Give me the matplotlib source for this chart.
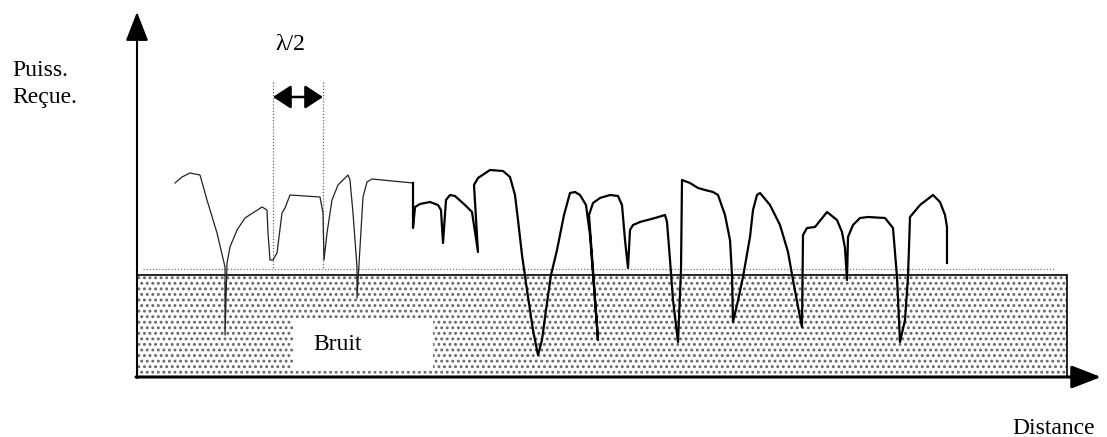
import matplotlib
matplotlib.use("Agg")
import matplotlib.pyplot as plt
from matplotlib.patches import Rectangle

plt.rcParams['hatch.linewidth'] = 1.3
plt.rcParams['hatch.color'] = '#666666'

# ---- data (schematic coordinates: distance -> right, level -> down in image units)
thin_dist = [175, 182, 190, 200, 207, 217, 225, 225, 227, 230, 237, 245, 262, 267, 268, 270,
             273, 277, 282, 285, 290, 320, 323, 324, 327, 332, 338, 348, 350, 353, 357, 357,
             363, 367, 372, 413]
thin_level = [183, 177, 173, 175, 200, 233, 267, 335, 263, 247, 230, 218, 207, 210, 233, 260,
              260, 253, 213, 208, 195, 197, 213, 260, 233, 200, 185, 175, 180, 213, 267, 298,
              197, 182, 179, 183]

thick_dist = [413, 413, 415, 420, 430, 438, 441, 443, 446, 450, 455, 465, 472, 478, 474, 478,
              490, 503, 510, 515, 518, 522, 527, 533, 538, 542, 546, 551, 557, 564, 570, 575,
              580, 586, 590, 595, 598, 593, 589, 593, 600, 610, 618, 622, 625, 628, 630, 633,
              640, 655, 665, 667, 670, 673, 678, 681, 682, 690, 698, 705, 713, 718, 725, 730,
              732, 733, 737, 743, 750, 753, 757, 760, 770, 780, 788, 793, 800, 802, 803, 807,
              815, 827, 837, 842, 845, 847, 848, 853, 860, 868, 885, 893, 897, 900, 905, 908,
              910, 920, 933, 940, 945, 947, 947]
thick_level = [183, 228, 207, 204, 202, 205, 210, 243, 200, 195, 196, 205, 212, 252, 185, 178,
               170, 171, 177, 195, 220, 255, 290, 330, 355, 340, 310, 275, 250, 215, 193, 192,
               195, 205, 235, 300, 340, 270, 215, 203, 198, 195, 196, 205, 240, 268, 230, 225,
               222, 218, 215, 222, 260, 300, 342, 270, 180, 183, 188, 190, 192, 195, 215, 240,
               275, 322, 305, 277, 237, 210, 195, 193, 205, 225, 252, 280, 317, 327, 235, 228,
               227, 212, 220, 232, 248, 280, 237, 225, 218, 217, 218, 228, 277, 342, 320, 277,
               217, 205, 195, 202, 215, 227, 263]

noise_top = 275
noise_bottom = 377
noise_right = 1067
threshold = 269
origin_x = 137

y_label = ["Puiss.", "Reçue."]
x_label = "Distance"
noise_label = "Bruit"
lambda_label = "λ/2"
lambda_left, lambda_right = 273, 323

# ---- figure
fig = plt.figure(figsize=(11.07, 4.37), dpi=100)
ax = fig.add_axes([0, 0, 1, 1])
ax.set_xlim(0, 1107)
ax.set_ylim(437, 0)
ax.axis('off')

serif = ['Liberation Serif', 'DejaVu Serif']
fs = 17

# noise band (stippled)
ax.add_patch(Rectangle((origin_x, noise_top), noise_right - origin_x, noise_bottom - noise_top,
                       facecolor='white', edgecolor='#666666', hatch='...', lw=0, zorder=1))
ax.add_patch(Rectangle((origin_x, noise_top), noise_right - origin_x, noise_bottom - noise_top,
                       facecolor='none', edgecolor='black', lw=1.2, zorder=3))
# white box for label
ax.add_patch(Rectangle((293, 318), 140, 53, facecolor='white', edgecolor='none', zorder=2))
ax.text(313, 345, noise_label, family=serif, fontsize=fs, va='center', ha='left', zorder=4)

# threshold dotted line
ax.plot([143, 1055], [threshold, threshold], ls=(0, (1, 1.5)), color='#777777', lw=0.9, zorder=2)

# lambda/2 markers
for xv in (lambda_left, lambda_right):
    ax.plot([xv, xv], [82, 268], ls=(0, (1, 1.5)), color='#666666', lw=0.9, zorder=2)
ax.annotate('', xy=(lambda_left, 97), xytext=(lambda_right, 97),
            arrowprops=dict(arrowstyle='<|-|>,head_length=0.55,head_width=0.36',
                            mutation_scale=20, color='black', lw=1.8, shrinkA=0, shrinkB=0))
ax.text(275, 45, lambda_label, family=serif, fontsize=fs, va='center', ha='left')

# signal
ax.plot(thin_dist, thin_level, color='#222222', lw=0.9, zorder=5, solid_joinstyle='round')
ax.plot(thick_dist, thick_level, color='black', lw=1.6, zorder=5, solid_joinstyle='round')

# axes arrows
ax.annotate('', xy=(origin_x, 12), xytext=(origin_x, noise_bottom + 1),
            arrowprops=dict(arrowstyle='-|>,head_length=0.9,head_width=0.35',
                            mutation_scale=20, color='black', lw=1.5, shrinkA=0, shrinkB=0),
            zorder=6)
ax.annotate('', xy=(1101, noise_bottom), xytext=(origin_x - 1, noise_bottom),
            arrowprops=dict(arrowstyle='-|>,head_length=0.9,head_width=0.35',
                            mutation_scale=20, color='black', lw=2.2, shrinkA=0, shrinkB=0),
            zorder=6)

# labels
ax.text(12, 70, y_label[0], family=serif, fontsize=fs, va='center', ha='left')
ax.text(12, 97, y_label[1], family=serif, fontsize=fs, va='center', ha='left')
ax.text(1012, 428, x_label, family=serif, fontsize=fs, va='center', ha='left')

fig.savefig('out.png', dpi=100)
